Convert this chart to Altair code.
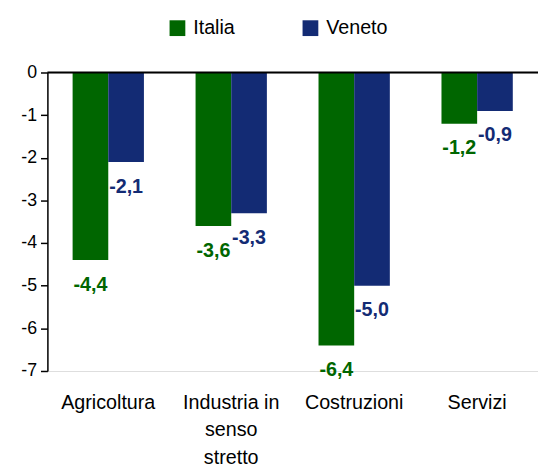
import altair as alt
import pandas as pd

categories = ["Agricoltura", "Industria in senso stretto", "Costruzioni", "Servizi"]
series = ["Italia", "Veneto"]
italia = [-4.4, -3.6, -6.4, -1.2]
veneto = [-2.1, -3.3, -5.0, -0.9]
y_ticks = [0, -1, -2, -3, -4, -5, -6, -7]

GREEN = "#006600"
BLUE = "#132B74"
FONT = "Liberation Sans"

rows = []
for c, a, b in zip(categories, italia, veneto):
    rows.append({"category": c, "series": "Italia", "value": a})
    rows.append({"category": c, "series": "Veneto", "value": b})
df = pd.DataFrame(rows)
df["label"] = df["value"].map(lambda v: f"{v:.1f}".replace(".", ","))

x_enc = alt.X(
    "category:N",
    sort=categories,
    scale=alt.Scale(paddingInner=0.42, paddingOuter=0.205),
    axis=alt.Axis(
        title=None,
        domain=False,
        ticks=False,
        labelAngle=0,
        labelPadding=22,
        labelFont=FONT,
        labelFontSize=20,
        labelColor="black",
        labelLineHeight=28,
        labelExpr="datum.label == 'Industria in senso stretto' ? ['Industria in', 'senso', 'stretto'] : datum.label",
    ),
)
y_enc = alt.Y(
    "value:Q",
    scale=alt.Scale(domain=[-7, 0], nice=False, zero=False),
    axis=alt.Axis(
        title=None,
        values=y_ticks,
        grid=False,
        domainColor="black",
        domainWidth=1.5,
        tickColor="black",
        tickWidth=1.5,
        tickSize=7,
        labelPadding=4,
        labelFont=FONT,
        labelFontSize=18,
        labelColor="black",
        labelExpr="datum.value == 0 ? '0' : '-' + abs(datum.value)",
    ),
)
xoff = alt.XOffset("series:N", sort=series, scale=alt.Scale(paddingInner=0, paddingOuter=0))

bars = alt.Chart(df).mark_bar().encode(
    x=x_enc,
    xOffset=xoff,
    y=y_enc,
    color=alt.Color(
        "series:N",
        sort=series,
        scale=alt.Scale(domain=series, range=[GREEN, BLUE]),
        legend=alt.Legend(
            title=None,
            orient="none",
            direction="horizontal",
            legendX=122,
            legendY=-55,
            padding=0,
            symbolType="square",
            symbolSize=256,
            symbolStrokeWidth=0,
            symbolOpacity=1,
            labelFont=FONT,
            labelFontSize=20,
            labelColor="black",
            labelOffset=6,
            columnPadding=66,
        ),
    ),
)

labels = alt.Chart(df).mark_text(
    font=FONT, fontSize=20, fontWeight="bold", baseline="middle", align="center", dy=25
).encode(
    x=x_enc,
    xOffset=xoff,
    y=alt.Y("value:Q"),
    text="label:N",
    color=alt.condition(alt.datum.series == "Italia", alt.value(GREEN), alt.value(BLUE)),
)

zero_line = alt.Chart(pd.DataFrame({"value": [0]})).mark_rule(color="black", strokeWidth=2).encode(
    y=alt.Y("value:Q"),
    x=alt.value(0),
    x2=alt.value(498),
)

chart = (
    alt.layer(bars, labels, zero_line)
    .properties(
        width=498,
        height=303,
        padding={"left": 40, "top": 62, "right": 0, "bottom": 95},
        autosize=alt.AutoSizeParams(type="none"),
    )
    .configure_view(stroke=None)
    .configure(font=FONT)
)

chart.save("out.html", embed_options={"renderer": "svg", "actions": False})
